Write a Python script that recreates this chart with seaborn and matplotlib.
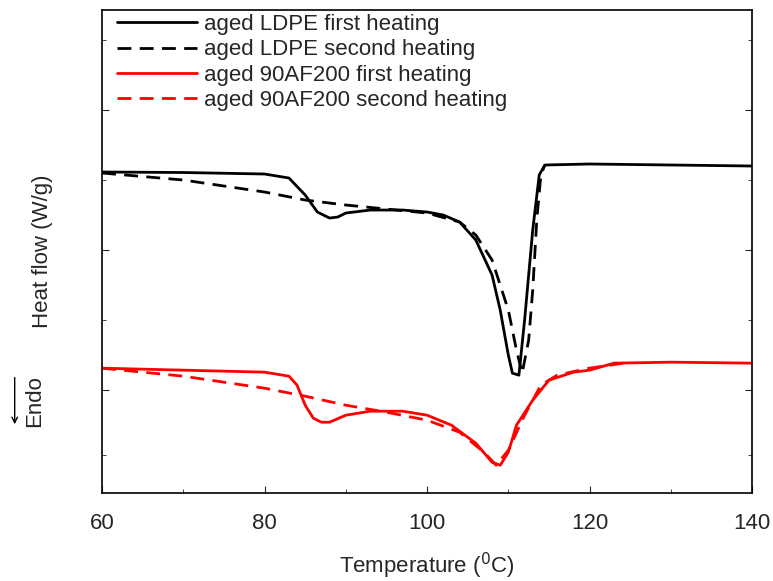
import matplotlib
matplotlib.use("Agg")
import matplotlib.pyplot as plt
import seaborn as sns

sns.set_style("white")
plt.rcParams['font.family'] = ['Liberation Sans', 'DejaVu Sans']

# y values in arbitrary heat-flow units (higher = down)
ld1_x = [60,70,80,83,85,86.5,88,89,90,93,97,100,102,104,106,108,109,110,110.5,111.3,112,113,113.8,114.5,120,130,140]
ld1_y = [172,172.5,174,178,195,212,218,217,213,210,210,212,215,222,240,275,310,355,373,375,320,230,175,165,164,165,166]
ld2_x = [60,70,80,85,90,95,100,104,106,108,110,111,111.7,112.5,113,113.5,114,114.5]
ld2_y = [173,180,192,200,205,209,213,222,235,260,310,350,373,340,290,220,175,165]
af1_x = [60,70,80,83,84,85,86,87,88,90,93,97,100,103,106,108,109,110,111,113,115,118,120,123,130,140]
af1_y = [368,370,372,376,385,405,418,422,422,415,411,411,415,425,443,462,465,452,425,400,380,372,370,363,362,363]
af2_x = [60,70,80,85,90,95,100,104,107,108.5,110,112,114,116,120,125]
af2_y = [368,376,388,396,405,412,420,432,452,465,450,415,385,375,368,362]

fig = plt.figure(figsize=(7.73, 5.81), dpi=100)
ax = fig.add_axes([0.132, 0.151, 0.841, 0.832])
neg = lambda v: [-a for a in v]
sns.lineplot(x=ld1_x, y=neg(ld1_y), ax=ax, color='black', lw=2, sort=False, label='aged LDPE first heating')
sns.lineplot(x=ld2_x, y=neg(ld2_y), ax=ax, color='black', lw=2, ls=(0,(5,3)), sort=False, label='aged LDPE second heating')
sns.lineplot(x=af1_x, y=neg(af1_y), ax=ax, color='red', lw=2, sort=False, label='aged 90AF200 first heating')
sns.lineplot(x=af2_x, y=neg(af2_y), ax=ax, color='red', lw=2, ls=(0,(5,3)), sort=False, label='aged 90AF200 second heating')

ax.set_xlim(60, 140)
ax.set_ylim(-493, -10)
ax.set_xticks([60,80,100,120,140])
ax.set_xticks([70,90,110,130], minor=True)
ax.set_yticks([-110,-250,-390])
ax.set_yticks([-40,-180,-320,-455], minor=True)
ax.set_yticklabels([])
ax.tick_params(axis='both', which='both', direction='in', right=True, left=True, bottom=True)
ax.tick_params(which='major', length=5, labelsize=16)
ax.tick_params(axis='x', which='major', pad=14)
ax.tick_params(which='minor', length=3)
for s in ax.spines.values():
    s.set_color('black'); s.set_linewidth(1.2)
ax.set_xlabel('Temperature ($^0$C)', fontsize=16, labelpad=12)
ax.set_ylabel('Heat flow (W/g)', fontsize=16, labelpad=32)
ax.legend(loc='upper left', frameon=False, fontsize=16, handlelength=3.6,
          borderaxespad=0.0, labelspacing=0.2, handletextpad=0.3,
          bbox_to_anchor=(0.01, 1.01))
fig.text(0.045, 0.31, 'Endo', rotation=90, fontsize=16, ha='center', va='center')
ax.annotate('', xy=(0.019, 0.265), xytext=(0.019, 0.355), xycoords='figure fraction',
            arrowprops=dict(arrowstyle='->', color='black', lw=1))
fig.savefig('out.png', dpi=100)
